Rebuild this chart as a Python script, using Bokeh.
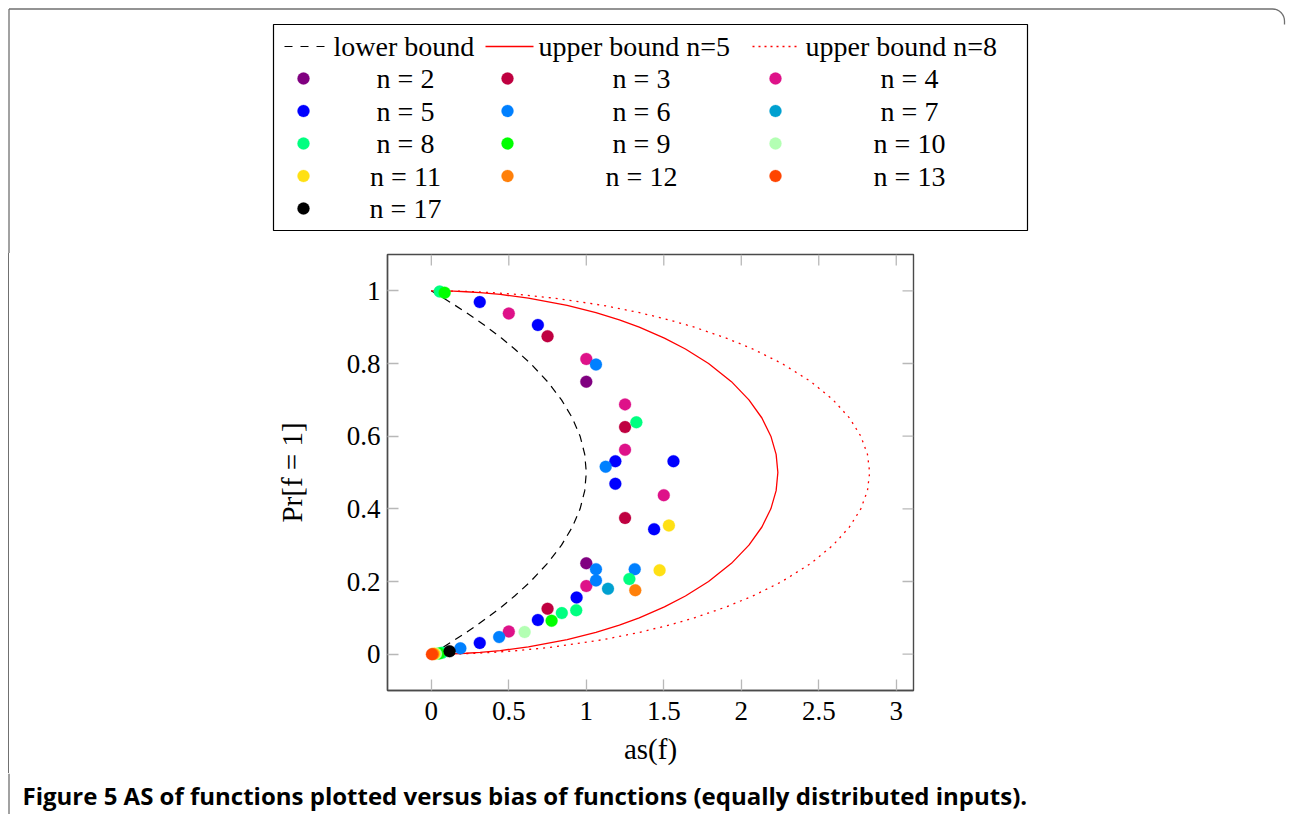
import math
from bokeh.plotting import figure
from bokeh.models import Range1d, FixedTicker, Div
from bokeh.layouts import column, row
from bokeh.embed import file_html
from bokeh.resources import INLINE
from bokeh.core.properties import value

# ---------------- data ----------------
# Pr[f=1] along the bound curves
bound_pr = [0, 0.001, 0.0025, 0.005, 0.01, 0.02, 0.04, 0.06, 0.08, 0.10, 0.13, 0.16,
            0.20, 0.25, 0.30, 0.35, 0.40, 0.45, 0.50, 0.55, 0.60, 0.65, 0.70, 0.75,
            0.80, 0.84, 0.87, 0.90, 0.92, 0.94, 0.96, 0.98, 0.99, 0.995, 0.9975, 0.999, 1.0]
lower_bound_as = [0, 0.004, 0.00998, 0.0199, 0.0396, 0.0784, 0.1536, 0.2256, 0.2944, 0.36,
                  0.4524, 0.5376, 0.64, 0.75, 0.84, 0.91, 0.96, 0.99, 1.0, 0.99, 0.96, 0.91,
                  0.84, 0.75, 0.64, 0.5376, 0.4524, 0.36, 0.2944, 0.2256, 0.1536, 0.0784,
                  0.0396, 0.0199, 0.00998, 0.004, 0]
upper_bound_n5_as = [0, 0.1413, 0.2233, 0.3154, 0.4450, 0.6261, 0.8764, 1.0621, 1.2133, 1.3416,
                     1.5040, 1.6395, 1.7889, 1.9365, 2.0494, 2.1331, 2.1909, 2.2249, 2.2361,
                     2.2249, 2.1909, 2.1331, 2.0494, 1.9365, 1.7889, 1.6395, 1.5040, 1.3416,
                     1.2133, 1.0621, 0.8764, 0.6261, 0.4450, 0.3154, 0.2233, 0.1413, 0]
upper_bound_n8_as = [0, 0.1788, 0.2825, 0.3990, 0.5628, 0.7920, 1.1085, 1.3434, 1.5347, 1.6971,
                     1.9024, 2.0738, 2.2627, 2.4495, 2.5923, 2.6981, 2.7713, 2.8142, 2.8284,
                     2.8142, 2.7713, 2.6981, 2.5923, 2.4495, 2.2627, 2.0738, 1.9024, 1.6971,
                     1.5347, 1.3434, 1.1085, 0.7920, 0.5628, 0.3990, 0.2825, 0.1788, 0]
line_labels = ["lower bound", "upper bound n=5", "upper bound n=8"]

series_labels = ["n = 2", "n = 3", "n = 4", "n = 5", "n = 6", "n = 7", "n = 8",
                 "n = 9", "n = 10", "n = 11", "n = 12", "n = 13", "n = 17"]
series_colors = ["#800080", "#BF0040", "#DE1289", "#0000FF", "#0080FF", "#00A0D0", "#00FF80",
                 "#00FF00", "#B3FFB3", "#FFE014", "#FF800A", "#FF4400", "#000000"]
series_as = [
    [1.0, 1.0],
    [0.75, 1.25, 1.25, 0.75],
    [0.5, 1.0, 1.25, 1.25, 1.5, 1.0, 0.5],
    [0.3125, 0.6875, 1.1875, 1.5625, 1.1875, 1.4375, 0.9375, 0.6875, 0.3125],
    [1.0625, 1.125, 1.0625, 1.3125, 1.0625, 0.4375, 0.1875],
    [1.14],
    [0.054, 1.323, 1.278, 0.935, 0.842, 0.07],
    [0.086, 0.776, 0.05],
    [0.602, 0.03],
    [1.533, 1.473, 0.02],
    [1.316, 0.012],
    [0.004],
    [0.118],
]
series_pr = [
    [0.75, 0.25],
    [0.875, 0.625, 0.375, 0.125],
    [0.9375, 0.8125, 0.6875, 0.5625, 0.4375, 0.1875, 0.0625],
    [0.969, 0.906, 0.531, 0.531, 0.469, 0.344, 0.156, 0.094, 0.031],
    [0.797, 0.516, 0.234, 0.234, 0.203, 0.047, 0.016],
    [0.180],
    [0.998, 0.638, 0.207, 0.121, 0.113, 0.004],
    [0.995, 0.092, 0.002],
    [0.061, 0.001],
    [0.354, 0.231, 0.001],
    [0.176, 0.0005],
    [0.0],
    [0.008],
]
x_ticks = [0, 0.5, 1, 1.5, 2, 2.5, 3]
x_tick_labels = ["0", "0.5", "1", "1.5", "2", "2.5", "3"]
y_ticks = [0, 0.2, 0.4, 0.6, 0.8, 1]
y_tick_labels = ["0", "0.2", "0.4", "0.6", "0.8", "1"]
x_label = "as(f)"
y_label = "Pr[f = 1]"
caption = "Figure 5 AS of functions plotted versus bias of functions (equally distributed inputs)."

SERIF = value("Liberation Serif")
BORDER = "#707070"
X0, X1 = -0.2828, 3.1113
Y0, Y1 = -0.1, 1.1

LEG_H = 253          # page y 0..253
ROW_H = 520          # page y 253..773
CAP_H = 41           # page y 773..814
ROW_END = LEG_H + ROW_H
LEFT_W = 260


def blank(w, h, x0, x1, y0, y1):
    # a frame-only figure whose data coordinates are page pixels (y negated)
    f = figure(width=w, height=h, x_range=Range1d(x0, x1), y_range=Range1d(-y1, -y0),
               output_backend="svg", toolbar_location=None,
               x_axis_type=None, y_axis_type=None, min_border=0)
    f.outline_line_color = None
    f.xgrid.visible = False
    f.ygrid.visible = False
    return f


# ---------------- legend figure ----------------
leg = blank(1288, LEG_H, 0, 1288, 0, LEG_H)
arc_t = [i * math.pi / 2 / 8 for i in range(9)]
leg.line([8.5, 8.5], [-LEG_H, -8.5], line_color=BORDER, line_width=1.3)
leg.line([8.5] + [1272 + 12 * math.sin(t) for t in arc_t] + [1284],
         [-8.5] + [-(20.5 - 12 * math.cos(t)) for t in arc_t] + [-24],
         line_color=BORDER, line_width=1.3)
leg.quad(left=273, right=1027, top=-24, bottom=-230, fill_color="white",
         line_color="black", line_width=1.2)
row1_y = -46
leg.line([284, 324], [row1_y, row1_y], line_color="black", line_width=1.2, line_dash="8 8")
leg.line([485, 533], [row1_y, row1_y], line_color="red", line_width=1.3)
leg.line([752, 800], [row1_y, row1_y], line_color="red", line_width=1.3, line_dash="2 4")
leg.text(x=[333, 538, 805], y=[row1_y] * 3, text=line_labels, text_font=SERIF,
         text_font_size=value("28px"), text_baseline="middle", text_align="left",
         text_color="black")
col_marker_x = [303, 507, 775]
col_text_x = [405, 641, 909]
row_y = [-78, -110.5, -143, -175.5, -208]
for i, (lab, colr) in enumerate(zip(series_labels, series_colors)):
    r, c = divmod(i, 3)
    leg.scatter([col_marker_x[c]], [row_y[r]], size=12, marker="circle",
                fill_color=colr, line_color=colr, line_width=0.3)
    leg.text(x=[col_text_x[c]], y=[row_y[r]], text=[lab], text_font=SERIF,
             text_font_size=value("28px"), text_baseline="middle", text_align="center",
             text_color="black")

# ---------------- left strip (page border line) ----------------
left_strip = Div(width=LEFT_W, height=ROW_H, margin=0,
                 text=f'<div style="width:9px;height:{ROW_H}px;box-sizing:border-box;'
                      f'border-right:1.3px solid {BORDER};"></div>')

# ---------------- main plot ----------------
p = figure(width=1288 - LEFT_W, height=ROW_H, x_range=Range1d(X0, X1), y_range=Range1d(Y0, Y1),
           output_backend="svg", toolbar_location=None,
           min_border_left=387 - LEFT_W, min_border_right=375, min_border_top=1,
           min_border_bottom=ROW_H - 1 - 436)
p.xgrid.visible = False
p.ygrid.visible = False
p.outline_line_color = "#4a4a4a"
p.outline_line_width = 1.4

# inward ticks on the top and right edges (pgfplots box style)
tick_len_y = 11 / 363.5
tick_len_x = 11 / 155.3
p.segment(x0=x_ticks, x1=x_ticks, y0=[Y1] * len(x_ticks), y1=[Y1 - tick_len_y] * len(x_ticks),
          line_color="#b8b8b8", line_width=1.3)
p.segment(x0=[X1] * len(y_ticks), x1=[X1 - tick_len_x] * len(y_ticks), y0=y_ticks, y1=y_ticks,
          line_color="#b8b8b8", line_width=1.3)

p.line(lower_bound_as, bound_pr, line_color="black", line_width=1.2, line_dash="8 6")
p.line(upper_bound_n5_as, bound_pr, line_color="red", line_width=1.3)
p.line(upper_bound_n8_as, bound_pr, line_color="red", line_width=1.3, line_dash="2 5")
for colr, xs, ys in zip(series_colors, series_as, series_pr):
    p.scatter(xs, ys, size=12, marker="circle", fill_color=colr, line_color=colr, line_width=0.3)

for ax, ticks, labels in ((p.xaxis[0], x_ticks, x_tick_labels), (p.yaxis[0], y_ticks, y_tick_labels)):
    ax.ticker = FixedTicker(ticks=ticks, minor_ticks=[])
    ax.major_tick_in = 11
    ax.major_tick_out = 0
    ax.minor_tick_line_color = None
    ax.major_tick_line_color = "#b8b8b8"
    ax.major_tick_line_width = 1.3
    ax.axis_line_color = "#4a4a4a"
    ax.axis_line_width = 1.4
    ax.major_label_overrides = {t: l for t, l in zip(ticks, labels)}
    ax.major_label_text_font = "Liberation Serif"
    ax.major_label_text_color = "black"
    ax.major_label_text_font_size = "27px"
    ax.axis_label_text_font = "Liberation Serif"
    ax.axis_label_text_font_style = "normal"
    ax.axis_label_text_font_size = "29px"
    ax.axis_label_text_color = "black"
p.xaxis[0].major_label_standoff = 11
p.yaxis[0].major_label_standoff = 7
p.xaxis[0].axis_label = x_label
p.xaxis[0].axis_label_standoff = 10
p.yaxis[0].axis_label = y_label
p.yaxis[0].axis_label_standoff = 36

# ---------------- caption figure ----------------
cap = blank(1288, CAP_H, 0, 1288, ROW_END, ROW_END + CAP_H)
cap.line([8.5, 8.5], [-(ROW_END + CAP_H), -ROW_END], line_color=BORDER, line_width=1.3)
cap.text(x=[22], y=[-795], text=[caption], text_font=value("Open Sans"),
         text_font_size=value("24px"), text_font_style="bold", text_baseline="middle",
         text_align="left", text_color="black")

layout = column(leg, row(left_strip, p), cap)
open("out.html", "w").write(file_html(layout, INLINE))
